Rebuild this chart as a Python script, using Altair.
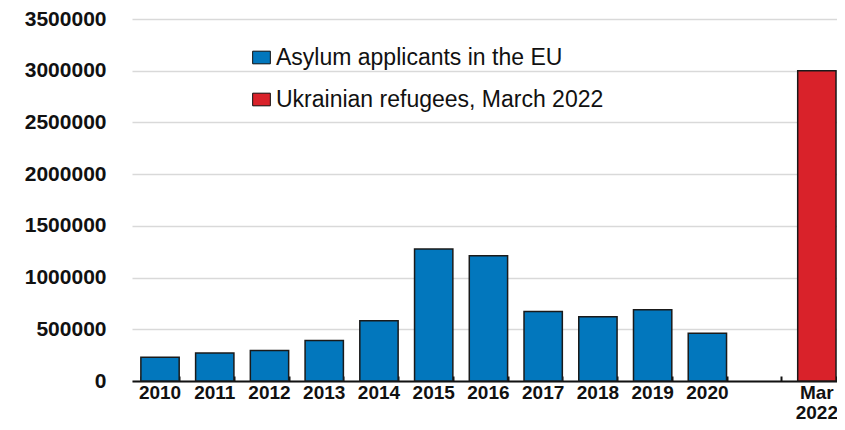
import altair as alt
import pandas as pd

categories = ["2010", "2011", "2012", "2013", "2014", "2015", "2016",
              "2017", "2018", "2019", "2020", "gap", "Mar 2022"]
bar_labels = ["2010", "2011", "2012", "2013", "2014", "2015", "2016",
              "2017", "2018", "2019", "2020", "Mar 2022"]
values = [229000, 270000, 296000, 391000, 582000, 1276000, 1212000,
          671000, 620000, 690000, 461000, 3000000]
series_names = ["Asylum applicants in the EU", "Ukrainian refugees, March 2022"]
series = [series_names[0]] * 11 + [series_names[1]]
colors = ["#0277BD", "#D9222A"]
y_ticks = [0, 500000, 1000000, 1500000, 2000000, 2500000, 3000000, 3500000]

df = pd.DataFrame({"cat": bar_labels, "value": values, "series": series})

FONT = "Liberation Sans"
xscale = alt.Scale(domain=categories, paddingInner=0.3, paddingOuter=0.09,
                   align=0.9, round=False)
yscale = alt.Scale(domain=[0, 3500000], nice=False)
yaxis = alt.Axis(title=None, values=y_ticks, format="d", domain=False, ticks=False,
                 labelPadding=26, labelFont=FONT, labelFontWeight="bold",
                 labelFontSize=21, labelColor="#111", gridColor="#d9d9d9",
                 gridWidth=1.5)

bars = alt.Chart(df).mark_bar(stroke="#1a1a1a", strokeWidth=1.5).encode(
    x=alt.X("cat:N", scale=xscale, sort=categories,
            axis=alt.Axis(title=None, orient="bottom", labelAngle=0, domain=True,
                          domainColor="#111", domainWidth=2, ticks=False, labelPadding=2,
                          labelFont=FONT, labelFontWeight="bold", labelFontSize=19,
                          labelColor="#111", labelLineHeight=20, grid=False,
                          labelExpr="datum.value == 'Mar 2022' ? ['Mar', '2022'] : (datum.value == 'gap' ? '' : datum.value)")),
    y=alt.Y("value:Q", scale=yscale, axis=yaxis),
    color=alt.Color("series:N", scale=alt.Scale(domain=series_names, range=colors),
                    legend=alt.Legend(title=None, orient="none", legendX=118, legendY=27,
                                      labelFont=FONT, labelFontSize=23, labelColor="#111",
                                      labelLimit=500, rowPadding=18, labelOffset=3,
                                      symbolType="M-1.4,-1H1.4V1H-1.4Z", symbolSize=160,
                                      symbolStrokeColor="#111", symbolStrokeWidth=1,
                                      symbolOpacity=1)),
)

tick_layer = alt.Chart(df).mark_bar(opacity=0).encode(
    x=alt.X("cat:N", scale=xscale, sort=categories,
            axis=alt.Axis(title=None, orient="bottom", domain=False, labels=False,
                          ticks=True, tickBand="extent", tickSize=5, tickColor="#111",
                          tickWidth=2, offset=-5, grid=False)),
    y=alt.Y("value:Q", scale=yscale, axis=yaxis),
)

chart = alt.layer(bars, tick_layer).resolve_axis(x="independent").properties(
    width=705, height=362,
    autosize=alt.AutoSizeParams(type="none"),
    padding={"left": 124, "top": 11, "right": 0, "bottom": 41},
).configure_view(stroke=None)

chart.save("out.html", embed_options={"renderer": "svg", "actions": False})
